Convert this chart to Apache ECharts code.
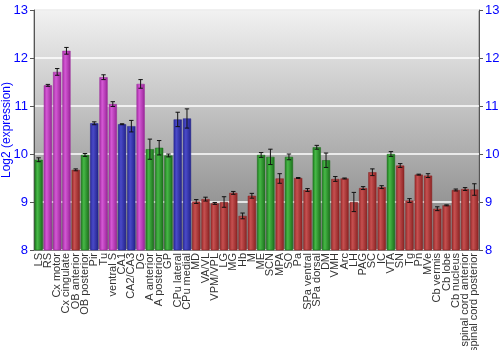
<!DOCTYPE html>
<html><head><meta charset="utf-8">
<script src="https://cdn.jsdelivr.net/npm/echarts@6/dist/echarts.min.js"></script>
<style>html,body{margin:0;padding:0;background:#fff}#c{width:500px;height:350px}</style>
</head><body><div id="c"></div>
<script>
const categories = ["LS","RS","Cx motor","Cx cingulate","OB anterior","OB posterior","Pir","Tu","ventral S","CA1","CA2/CA3","DG","A anterior","A posterior","GP","CPu lateral","CPu medial","MD","VA/VL","VPM/VPL","LG","MG","Hb","M","ME","SCN","MPA","SO","Pa","SPa ventral","SPa dorsal","DM","VMH","Arc","LH","PAG","SC","IC","VTA","SN","Tg","Pn","MVe","Cb vermis","Cb lobe","Cb nucleus","spinal cord anterior","spinal cord posterior"];
const values = [9.88,11.43,11.71,12.15,9.67,9.98,10.64,11.60,11.04,10.62,10.58,11.46,10.10,10.13,9.97,10.72,10.74,9.01,9.06,8.97,9.00,9.19,8.71,9.13,9.98,9.94,9.49,9.94,9.50,9.25,10.14,9.87,9.48,9.49,9.00,9.29,9.62,9.31,10.00,9.76,9.03,9.57,9.55,8.86,8.93,9.25,9.27,9.26];
const errors = [0.04,0.02,0.07,0.07,0.02,0.03,0.03,0.05,0.05,0.01,0.12,0.09,0.21,0.15,0.03,0.15,0.2,0.04,0.04,0.02,0.11,0.03,0.06,0.05,0.05,0.16,0.1,0.06,0.01,0.03,0.04,0.15,0.05,0.01,0.2,0.03,0.07,0.03,0.05,0.04,0.04,0.01,0.04,0.04,0.01,0.02,0.03,0.12];
const groups = ["g","m","m","m","r","g","b","m","m","b","b","m","g","g","g","b","b","r","r","r","r","r","r","r","g","g","r","g","r","r","g","g","r","r","r","r","r","r","g","r","r","r","r","r","r","r","r","r"];
const yTicks = [8,9,10,11,12,13];

const palette = {
  g: ["#1d7a1d","#47b847","#1a6e1a"],
  m: ["#a52ca5","#d458d4","#982498"],
  r: ["#9a2a2a","#c65050","#8a2222"],
  b: ["#28289a","#4a4ac8","#22228a"]
};
function grad(k){
  const p = palette[k];
  return new echarts.graphic.LinearGradient(0,0,1,0,[
    {offset:0,color:p[0]},{offset:0.35,color:p[1]},{offset:1,color:p[2]}]);
}
const barData = values.map((v,i)=>({value:v,itemStyle:{color:grad(groups[i]),borderColor:palette[groups[i]][2],borderWidth:0.5}}));
const errData = values.map((v,i)=>[i, v-errors[i], v+errors[i]]);

const chart = echarts.init(document.getElementById('c'), null, {renderer:'canvas'});
chart.setOption({
  animation:false,
  grid:{left:34,right:21,top:10,bottom:100,containLabel:false,outerBoundsMode:'none',show:true,borderColor:'#888',borderWidth:1,
    backgroundColor:new echarts.graphic.LinearGradient(0,0,0,1,[{offset:0,color:'#f2f2f2'},{offset:1,color:'#7e7e7e'}])},
  xAxis:{type:'category',data:categories,
    axisLine:{show:true,lineStyle:{color:'#888'}},axisTick:{show:false},
    axisLabel:{rotate:90,interval:0,fontSize:11,color:'#333',fontFamily:'Liberation Sans, Arial',margin:3}},
  yAxis:[
    {type:'value',min:8,max:13,interval:1,
     axisLine:{show:true,lineStyle:{color:'#555'}},axisTick:{show:true,length:4,lineStyle:{color:'#555'}},
     axisLabel:{color:'#0000ff',fontSize:13,fontFamily:'Liberation Sans, Arial',margin:6,customValues:yTicks},
     splitLine:{show:true,lineStyle:{color:'#ffffff',width:1.5}},
     name:'Log2 (expression)',nameLocation:'middle',nameGap:21,nameMoveOverlap:false,
     nameTextStyle:{color:'#0000ff',fontSize:12,fontFamily:'Liberation Sans, Arial'}},
    {type:'value',min:8,max:13,interval:1,position:'right',
     axisLine:{show:true,lineStyle:{color:'#555'}},axisTick:{show:true,length:4,lineStyle:{color:'#555'}},
     axisLabel:{color:'#0000ff',fontSize:13,fontFamily:'Liberation Sans, Arial',margin:6},
     splitLine:{show:false}}
  ],
  series:[
    {type:'bar',data:barData,barCategoryGap:'12%'},
    {type:'custom',data:errData,z:10,
     renderItem:function(params,api){
       const x=api.value(0);
       const lo=api.coord([x,api.value(1)]);
       const hi=api.coord([x,api.value(2)]);
       const w=2.2;
       const st={stroke:'#111',lineWidth:1};
       return {type:'group',children:[
         {type:'line',shape:{x1:lo[0],y1:lo[1],x2:hi[0],y2:hi[1]},style:st},
         {type:'line',shape:{x1:lo[0]-w,y1:lo[1],x2:lo[0]+w,y2:lo[1]},style:st},
         {type:'line',shape:{x1:hi[0]-w,y1:hi[1],x2:hi[0]+w,y2:hi[1]},style:st}
       ]};
     }}
  ]
});
</script></body></html>
